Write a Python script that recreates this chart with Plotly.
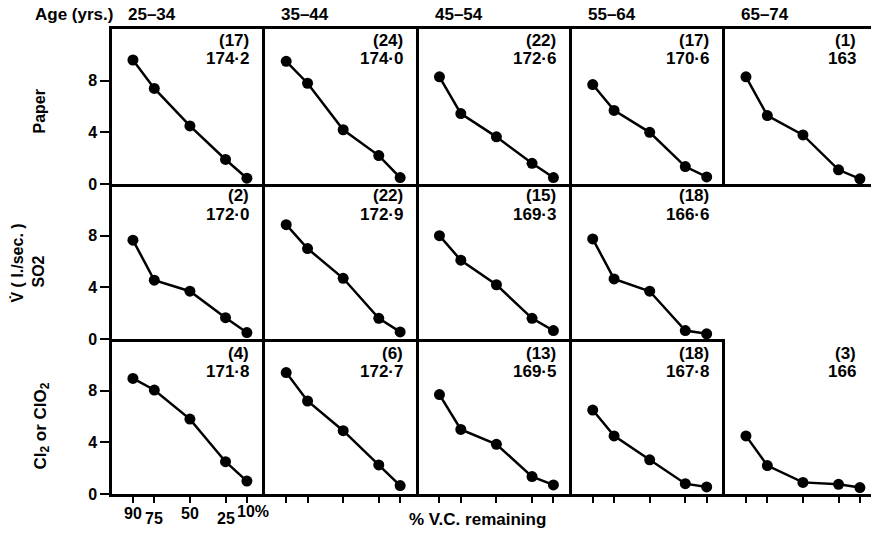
import plotly.graph_objects as go
from plotly.subplots import make_subplots

# ---------------- data ----------------
age_groups = ["25–34", "35–44", "45–54", "55–64", "65–74"]
row_labels = ["Paper", "SO2", "Cl<sub>2</sub> or ClO<sub>2</sub>"]
vc_remaining = [90, 75, 50, 25, 10]
vc_tick_labels = ["90", "75", "50", "25", "10%"]
flow_ticks = [0, 4, 8]

paper_flow = [
    [9.6, 7.4, 4.5, 1.9, 0.45],
    [9.5, 7.8, 4.2, 2.2, 0.5],
    [8.3, 5.45, 3.65, 1.6, 0.5],
    [7.7, 5.7, 4.0, 1.35, 0.55],
    [8.3, 5.3, 3.8, 1.1, 0.4],
]
so2_flow = [
    [7.65, 4.55, 3.7, 1.65, 0.5],
    [8.85, 7.0, 4.7, 1.6, 0.55],
    [8.0, 6.1, 4.2, 1.6, 0.65],
    [7.75, 4.65, 3.7, 0.65, 0.4],
    None,
]
cl_flow = [
    [8.95, 8.05, 5.8, 2.5, 1.0],
    [9.4, 7.2, 4.9, 2.25, 0.65],
    [7.7, 5.0, 3.85, 1.35, 0.7],
    [6.5, 4.5, 2.65, 0.8, 0.55],
    [4.5, 2.2, 0.9, 0.75, 0.5],
]

paper_n = ["(17)", "(24)", "(22)", "(17)", "(1)"]
paper_height = ["174·2", "174·0", "172·6", "170·6", "163"]
so2_n = ["(2)", "(22)", "(15)", "(18)", ""]
so2_height = ["172·0", "172·9", "169·3", "166·6", ""]
cl_n = ["(4)", "(6)", "(13)", "(18)", "(3)"]
cl_height = ["171·8", "172·7", "169·5", "167·8", "166"]

flows = [paper_flow, so2_flow, cl_flow]
ns = [paper_n, so2_n, cl_n]
heights = [paper_height, so2_height, cl_height]

# ---------------- figure ----------------
FONT = "'Liberation Sans', Arial, sans-serif"
col_widths = [153.3, 153.3, 153.3, 153.3, 146]

fig = make_subplots(
    rows=3, cols=5,
    column_widths=col_widths,
    horizontal_spacing=0, vertical_spacing=0,
)

for r in range(3):
    for c in range(5):
        vals = flows[r][c]
        if vals is not None:
            fig.add_trace(
                go.Scatter(
                    x=vc_remaining, y=vals, mode="lines+markers",
                    line=dict(color="black", width=2.5),
                    marker=dict(color="black", size=11),
                    cliponaxis=False, showlegend=False, hoverinfo="skip",
                ),
                row=r + 1, col=c + 1,
            )

for r in range(3):
    for c in range(5):
        xr = [104.7, -2.9] if c < 4 else [104.7, 2.2]
        fig.update_xaxes(
            row=r + 1, col=c + 1,
            range=xr, showgrid=False, zeroline=False,
            showline=True, linecolor="black", linewidth=2.5,
            mirror=(r == 0),
            ticks="outside" if r == 2 else "",
            tickvals=vc_remaining, ticklen=6, tickwidth=2, tickcolor="black",
            showticklabels=False, fixedrange=True,
        )
        fig.update_yaxes(
            row=r + 1, col=c + 1,
            range=[0, 12], showgrid=False, zeroline=False,
            showline=True, linecolor="black", linewidth=2.5, mirror=False,
            ticks="outside" if c == 0 else "",
            tickvals=flow_ticks, ticklen=9, tickwidth=2, tickcolor="black",
            showticklabels=(c == 0),
            tickfont=dict(family=FONT, size=16, color="black", weight="bold"),
            fixedrange=True,
        )

annotations = []
txt_font = dict(family=FONT, size=17, color="black", weight="bold")
hdr_font = dict(family=FONT, size=17, color="black", weight="bold")
lab_font = dict(family=FONT, size=16, color="black", weight="bold")

# column headers
for c, age in enumerate(age_groups):
    idx = c + 1
    annotations.append(dict(
        text=age, xref=f"x{'' if idx == 1 else idx} domain", yref=f"y{'' if idx == 1 else idx} domain",
        x=0, y=1, xanchor="left", yanchor="middle", xshift=14, yshift=15,
        showarrow=False, font=hdr_font,
    ))
annotations.append(dict(
    text="Age (yrs.)", xref="paper", yref="paper", x=0, y=1,
    xanchor="right", yanchor="middle", xshift=3, yshift=15,
    showarrow=False, font=hdr_font,
))

# n and height labels inside panels
row_offsets = [(11, 29), (11, 30), (14, 32)]
for r in range(3):
    for c in range(5):
        idx = r * 5 + c + 1
        sfx = "" if idx == 1 else str(idx)
        xs = -14 if c < 4 else -13
        for text, off in ((ns[r][c], row_offsets[r][0]), (heights[r][c], row_offsets[r][1])):
            if text:
                annotations.append(dict(
                    text=text, xref=f"x{sfx} domain", yref=f"y{sfx} domain",
                    x=1, y=1, xanchor="right", yanchor="middle",
                    xshift=xs, yshift=-off, showarrow=False, font=txt_font,
                ))

# row labels (rotated)
row_label_specs = [
    ("Paper", "y domain", -73, -5, lab_font),
    ("V̇ ( l./sec. )", "y6 domain", -95, -2, lab_font),
    ("SO2", "y6 domain", -74, -10, lab_font),
    (row_labels[2], "y11 domain", -71, -10, hdr_font),
]
for text, yref, xs, ys, fnt in row_label_specs:
    annotations.append(dict(
        text=text, xref="paper", yref=yref, x=0, y=0.5,
        xanchor="center", yanchor="middle",
        xshift=xs, yshift=ys, textangle=-90, showarrow=False, font=fnt,
    ))

# staggered x tick labels under first column
stagger = [-19, -24, -19, -24, -17]
for v, lab, ys in zip(vc_remaining, vc_tick_labels, stagger):
    last = lab.endswith("%")
    annotations.append(dict(
        text=lab, xref="x11", yref="y11 domain", x=v, y=0,
        xanchor="left" if last else "center", yanchor="middle",
        xshift=-12 if last else 0, yshift=ys,
        showarrow=False, font=lab_font,
    ))

annotations.append(dict(
    text="% V.C. remaining", xref="paper", yref="paper", x=0.482, y=0,
    xanchor="center", yanchor="middle", yshift=-25,
    showarrow=False, font=hdr_font,
))

fig.update_layout(
    width=871, height=533, autosize=False,
    margin=dict(l=112, r=0, t=29, b=39),
    paper_bgcolor="white", plot_bgcolor="white",
    annotations=annotations,
    font=dict(family=FONT, color="black"),
)

fig.write_html(
    "out.html",
    config={"displayModeBar": False},
    post_script="document.body.style.margin='0';document.body.style.padding='0';",
)
